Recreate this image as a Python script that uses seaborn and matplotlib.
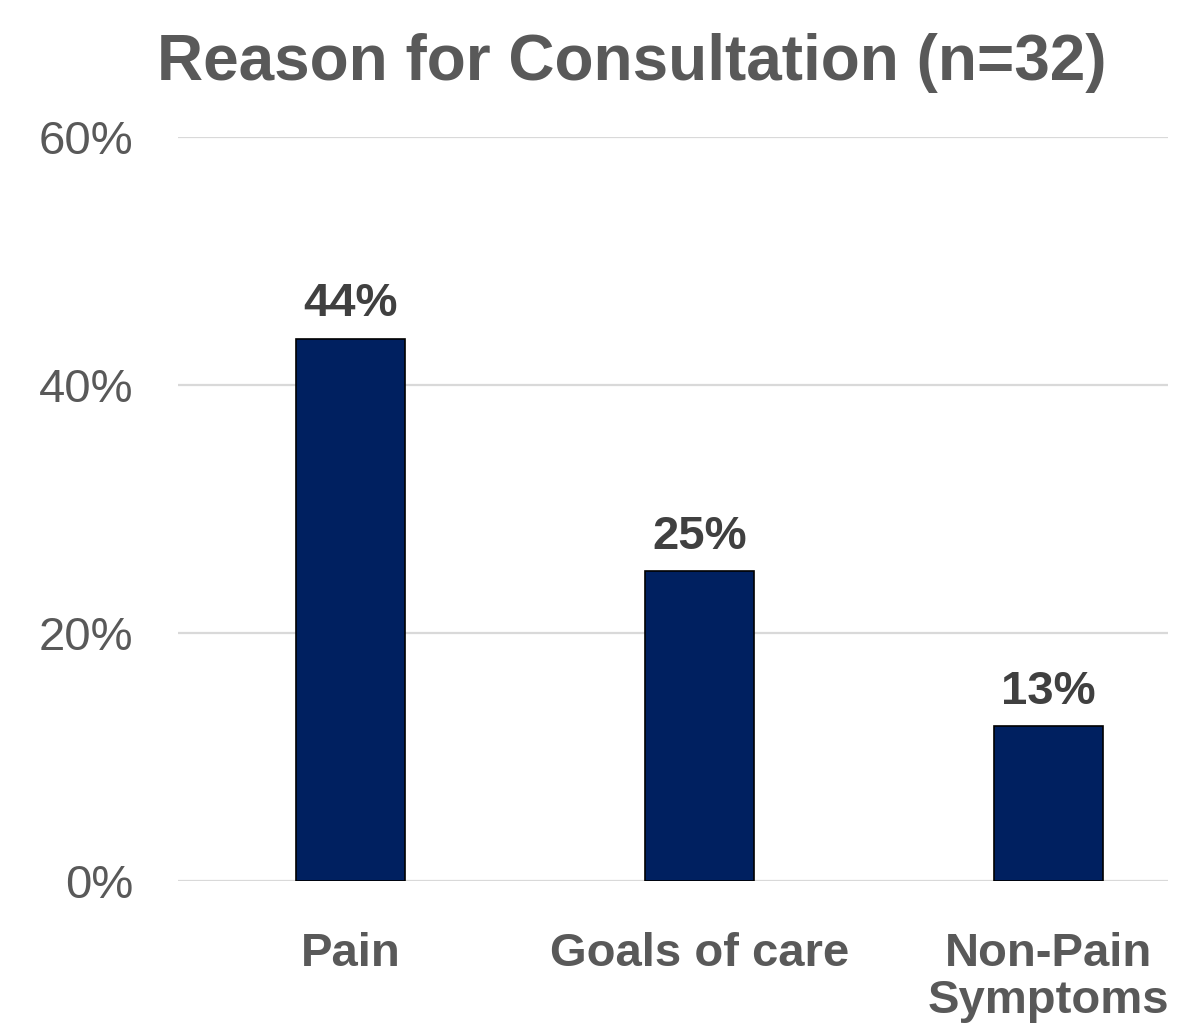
import matplotlib
matplotlib.use("Agg")
import matplotlib.pyplot as plt
import seaborn as sns
import pandas as pd
from matplotlib.ticker import FuncFormatter

categories = ["Pain", "Goals of care", "Non-Pain\nSymptoms"]
values = [0.4375, 0.25, 0.125]
value_labels = ["44%", "25%", "13%"]
y_ticks = [0.0, 0.2, 0.4, 0.6]
title = "Reason for Consultation (n=32)"

sns.set_theme(style="white")
plt.rcParams["font.family"] = ["Liberation Sans", "DejaVu Sans"]

W, H = 1183, 1029
fig = plt.figure(figsize=(W / 100, H / 100), dpi=100)
ax = fig.add_axes([178 / W, (H - 881) / H, (1168 - 178) / W, (881 - 137) / H])

df = pd.DataFrame({"cat": categories, "val": values})
sns.barplot(data=df, x="cat", y="val", color="#002060", edgecolor="black",
            linewidth=1.2, width=0.313, saturation=1, ax=ax, zorder=3)

ax.set_ylim(0, 0.6)
ax.set_xlim(-0.496, 2.344)
ax.set_yticks(y_ticks)
ax.yaxis.set_major_formatter(FuncFormatter(lambda v, p: f"{v*100:.0f}%"))
ax.grid(axis="y", color="#d9d9d9", linewidth=1.6, zorder=0)
ax.grid(axis="x", visible=False)
for s in ax.spines.values():
    s.set_visible(False)
ax.set_xlabel("")
ax.set_ylabel("")
ax.tick_params(axis="y", length=0, pad=32, labelsize=34, labelcolor="#595959")
ax.tick_params(axis="x", length=0, pad=37, labelsize=34, labelcolor="#595959")
for lbl in ax.get_xticklabels():
    lbl.set_fontweight("bold")
    lbl.set_linespacing(1.08)
    lbl.set_verticalalignment("top")

for i, (v, t) in enumerate(zip(values, value_labels)):
    ax.annotate(t, xy=(i, v), xytext=(0, 16), textcoords="offset points",
                ha="center", va="baseline", fontsize=34, fontweight="bold",
                color="#404040")

fig.text(632 / W, (H - 80) / H, title, ha="center", va="baseline",
         fontsize=46, fontweight="bold", color="#595959")

fig.savefig("out.png", dpi=100)
